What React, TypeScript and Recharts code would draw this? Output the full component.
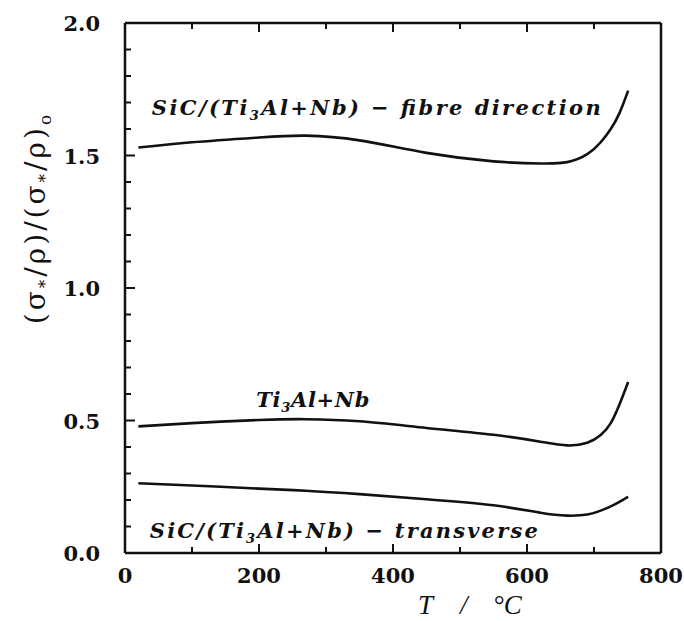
import { LineChart, Line, XAxis, YAxis, ReferenceDot, Label } from "recharts"

// temperature (°C) sampled along the three curves
const temps = [20, 100, 200, 270, 350, 450, 550, 620, 660, 690, 710, 725, 738, 751]
const fibreDirection = [1.53, 1.55, 1.568, 1.575, 1.557, 1.51, 1.478, 1.47, 1.475, 1.505, 1.55, 1.6, 1.66, 1.745]
const matrix = [0.478, 0.49, 0.502, 0.505, 0.497, 0.472, 0.446, 0.42, 0.406, 0.416, 0.445, 0.49, 0.56, 0.645]
const transverse = [0.263, 0.255, 0.243, 0.235, 0.222, 0.203, 0.18, 0.152, 0.141, 0.145, 0.16, 0.176, 0.193, 0.212]

const xTicks = [0, 100, 200, 300, 400, 500, 600, 700, 800]
const yTicks = [
  0, 0.1, 0.2, 0.3, 0.4, 0.5, 0.6, 0.7, 0.8, 0.9, 1.0,
  1.1, 1.2, 1.3, 1.4, 1.5, 1.6, 1.7, 1.8, 1.9, 2.0,
]

// where the curve captions sit (T, ratio)
const fibreNote = { t: 40, v: 1.68 }
const matrixNote = { t: 196, v: 0.577 }
const transverseNote = { t: 37, v: 0.083 }

const data = temps.map((t, i) => ({
  t,
  fibre: fibreDirection[i],
  matrix: matrix[i],
  transverse: transverse[i],
}))

const ink = "#111"
const frame = { stroke: ink, strokeWidth: 2.5 }
const tickFont = {
  fontFamily: "'DejaVu Serif', serif",
  fontWeight: 700,
  fontSize: 21,
  fill: ink,
}
const noteFont = {
  fontFamily: "'DejaVu Serif', serif",
  fontWeight: 700,
  fontStyle: "italic",
  fontSize: 21,
  fill: ink,
}

const isMajor = (v: number, step: number) =>
  Math.abs(v / step - Math.round(v / step)) < 1e-6

function LeftTick({ x, y, payload }: any) {
  const major = isMajor(payload.value, 0.5)
  return (
    <g>
      <line x1={x} y1={y} x2={x + (major ? 10 : 6)} y2={y} stroke={ink} strokeWidth={2} />
      {major && (
        <text x={x - 25} y={y + 8} textAnchor="end" {...tickFont}>
          {payload.value.toFixed(1)}
        </text>
      )}
    </g>
  )
}

function RightTick({ x, y, payload }: any) {
  const major = isMajor(payload.value, 0.5)
  return <line x1={x} y1={y} x2={x - (major ? 10 : 6)} y2={y} stroke={ink} strokeWidth={2} />
}

function BottomTick({ x, y, payload }: any) {
  const major = isMajor(payload.value, 200)
  return (
    <g>
      <line x1={x} y1={y} x2={x} y2={y - (major ? 9 : 6)} stroke={ink} strokeWidth={2} />
      {major && (
        <text x={x} y={y + 30} textAnchor="middle" {...tickFont}>
          {payload.value}
        </text>
      )}
    </g>
  )
}

function TopTick({ x, y, payload }: any) {
  const major = isMajor(payload.value, 200)
  return <line x1={x} y1={y} x2={x} y2={y + (major ? 9 : 6)} stroke={ink} strokeWidth={2} />
}

function XTitle({ viewBox }: any) {
  const base = viewBox.y + 61
  return (
    <text
      y={base}
      fontFamily="'Liberation Serif', serif"
      fontStyle="italic"
      fontSize={27}
      fill={ink}
    >
      <tspan x={viewBox.x + 293}>T</tspan>
      <tspan x={viewBox.x + 335}>/</tspan>
      <tspan x={viewBox.x + 368}>°C</tspan>
    </text>
  )
}

function YTitle() {
  const sub = { fontSize: 17 }
  return (
    <text
      transform="translate(45,218) rotate(-90)"
      textAnchor="middle"
      fontFamily="'DejaVu Serif', serif"
      fontSize={28}
      letterSpacing={3}
      fill={ink}
    >
      (σ<tspan {...sub} dy={6}>*</tspan>
      <tspan dy={-6}>/ρ)/(σ</tspan>
      <tspan {...sub} dy={6}>*</tspan>
      <tspan dy={-6}>/ρ)</tspan>
      <tspan {...sub} dy={6}>o</tspan>
    </text>
  )
}

function Ti3Al() {
  return (
    <>
      <tspan>Ti</tspan>
      <tspan fontSize={13} dy={5}>3</tspan>
      <tspan dy={-5}>Al+Nb</tspan>
    </>
  )
}

const note = (width: number, body: (props: any) => any) => ({ viewBox }: any) => (
  <text
    x={viewBox.x + viewBox.width / 2}
    y={viewBox.y + viewBox.height / 2 + 7}
    textLength={width}
    lengthAdjust="spacing"
    {...noteFont}
  >
    {body({})}
  </text>
)

const FibreText = () => (
  <>
    <tspan>SiC/(</tspan>
    <Ti3Al />
    <tspan>) − fibre direction</tspan>
  </>
)
const TransverseText = () => (
  <>
    <tspan>SiC/(</tspan>
    <Ti3Al />
    <tspan>) − transverse</tspan>
  </>
)

export default function App() {
  return (
    <div style={{ position: "absolute", left: 0, top: 0, background: "#fff" }}>
      <LineChart
        width={684}
        height={621}
        data={data}
        margin={{ top: 22, right: 22, bottom: 67, left: 0 }}
      >
        <XAxis
          dataKey="t"
          type="number"
          domain={[0, 800]}
          ticks={xTicks}
          interval={0}
          height={1}
          tickSize={0}
          tickMargin={0}
          tickLine={false}
          tick={<BottomTick />}
          axisLine={frame}
        >
          <Label content={<XTitle />} />
        </XAxis>
        <XAxis
          xAxisId="top"
          orientation="top"
          dataKey="t"
          type="number"
          domain={[0, 800]}
          ticks={xTicks}
          interval={0}
          height={1}
          tickSize={0}
          tickMargin={0}
          tickLine={false}
          tick={<TopTick />}
          axisLine={frame}
        />
        <YAxis
          type="number"
          domain={[0, 2]}
          ticks={yTicks}
          interval={0}
          width={125}
          tickSize={0}
          tickMargin={0}
          tickLine={false}
          tick={<LeftTick />}
          axisLine={frame}
        >
          <Label content={<YTitle />} />
        </YAxis>
        <YAxis
          yAxisId="right"
          orientation="right"
          type="number"
          domain={[0, 2]}
          ticks={yTicks}
          interval={0}
          width={1}
          tickSize={0}
          tickMargin={0}
          tickLine={false}
          tick={<RightTick />}
          axisLine={frame}
        />
        <Line type="natural" dataKey="fibre" stroke={ink} strokeWidth={2.6} dot={false} isAnimationActive={false} />
        <Line type="natural" dataKey="matrix" stroke={ink} strokeWidth={2.6} dot={false} isAnimationActive={false} />
        <Line type="natural" dataKey="transverse" stroke={ink} strokeWidth={2.6} dot={false} isAnimationActive={false} />
        <ReferenceDot
          x={fibreNote.t}
          y={fibreNote.v}
          r={1}
          fill="none"
          stroke="none"
          label={{ content: note(449, FibreText) }}
        />
        <ReferenceDot
          x={matrixNote.t}
          y={matrixNote.v}
          r={1}
          fill="none"
          stroke="none"
          label={{ content: note(113, Ti3Al) }}
        />
        <ReferenceDot
          x={transverseNote.t}
          y={transverseNote.v}
          r={1}
          fill="none"
          stroke="none"
          label={{ content: note(388, TransverseText) }}
        />
      </LineChart>
    </div>
  )
}
